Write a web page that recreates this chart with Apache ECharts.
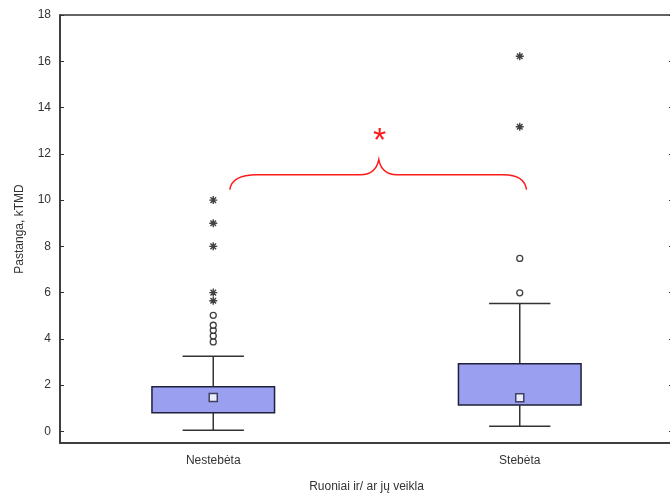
<!DOCTYPE html>
<html>
<head>
<meta charset="utf-8">
<script src="https://cdn.jsdelivr.net/npm/echarts@6/dist/echarts.min.js"></script>
<style>html,body{margin:0;padding:0;background:#fff;}#c{width:670px;height:494px;}</style>
</head>
<body>
<div id="c"></div>
<script>
// ---- data ----
var categories = ['Nestebėta', 'Stebėta'];
var yTicks = [0, 2, 4, 6, 8, 10, 12, 14, 16, 18];
var boxMin = [0.05, 0.22];
var boxQ1 = [0.81, 1.14];
var boxMedian = [1.47, 1.46];
var boxQ3 = [1.93, 2.93];
var boxMax = [3.25, 5.53];
var outliers0 = [3.87, 4.13, 4.37, 4.59, 5.02];
var outliers1 = [5.99, 7.48];
var extremes0 = [5.65, 6.0, 8.0, 9.0, 10.0];
var extremes1 = [13.17, 16.22];
// significance brace (x in category units, y in data units)
var braceX = [0.054, 0.54, 1.022];   // left end, peak, right end
var braceY = [10.45, 11.1, 11.75];   // ends, arms, peak
var sigMark = { x: 0.543, y: 12.96, text: '*' };

var font = 'Liberation Sans, Arial, sans-serif';
var boxData = categories.map(function (c, i) {
  return [i, boxMin[i], boxQ1[i], boxMedian[i], boxQ3[i], boxMax[i]];
});
function pts(idx, arr) { return arr.map(function (v) { return [idx, v]; }); }
var outlierData = pts(0, outliers0).concat(pts(1, outliers1));
var extremeData = pts(0, extremes0).concat(pts(1, extremes1));
var medianData = boxMedian.map(function (v, i) { return [i, v]; });

var chart = echarts.init(document.getElementById('c'), null, { renderer: 'canvas' });
var axisColor = '#333';
chart.setOption({
  animation: false,
  backgroundColor: '#fff',
  grid: { left: 60, top: 15, right: -3, bottom: 51, containLabel: false, outerBoundsMode: 'none',
    show: true, borderColor: axisColor, borderWidth: 1.5, backgroundColor: 'transparent' },
  xAxis: [{
    type: 'category', data: categories, boundaryGap: true,
    axisLine: { onZero: false, lineStyle: { color: axisColor, width: 1.5 } },
    axisTick: { inside: true, alignWithLabel: true, length: 4, lineStyle: { color: axisColor } },
    axisLabel: { color: '#333', fontSize: 12, fontFamily: font, margin: 12 },
    name: 'Ruoniai ir/ ar jų veikla', nameLocation: 'middle', nameGap: 38,
    nameTextStyle: { color: '#333', fontSize: 12, fontFamily: font },
    splitLine: { show: false }
  }, {
    type: 'value', min: -0.5, max: 1.5, show: false,
    axisLine: { show: false, onZero: false }
  }],
  yAxis: [{
    type: 'value', min: -0.5, max: 18,
    axisLine: { show: true, onZero: false, lineStyle: { color: axisColor, width: 1.5 } },
    axisTick: { show: true, inside: true, length: 4, customValues: yTicks, lineStyle: { color: axisColor } },
    axisLabel: { color: '#333', fontSize: 12, fontFamily: font, margin: 9, customValues: yTicks },
    splitLine: { show: false },
    name: 'Pastanga, kTMD', nameLocation: 'middle', nameGap: 34, nameRotate: 90,
    nameTextStyle: { color: '#333', fontSize: 12, fontFamily: font }
  }, {
    type: 'value', min: -0.5, max: 18, position: 'right',
    axisLine: { show: true, onZero: false, lineStyle: { color: axisColor, width: 1.5 } },
    axisTick: { show: true, inside: true, length: 4, customValues: yTicks, lineStyle: { color: axisColor } },
    axisLabel: { show: false },
    splitLine: { show: false }
  }],
  series: [{
    type: 'custom',
    xAxisIndex: 0, yAxisIndex: 0,
    data: boxData,
    z: 2,
    renderItem: function (params, api) {
      var i = api.value(0);
      var band = api.size([1, 0])[0];
      var bw = band * 0.4, cw = band * 0.2;
      var pMin = api.coord([i, api.value(1)]);
      var pQ1 = api.coord([i, api.value(2)]);
      var pQ3 = api.coord([i, api.value(4)]);
      var pMax = api.coord([i, api.value(5)]);
      var x = pQ1[0];
      var ls = { stroke: '#333', lineWidth: 1.5 };
      return { type: 'group', children: [
        { type: 'line', shape: { x1: x, y1: pQ3[1], x2: x, y2: pMax[1] }, style: ls },
        { type: 'line', shape: { x1: x, y1: pQ1[1], x2: x, y2: pMin[1] }, style: ls },
        { type: 'line', shape: { x1: x - cw / 2, y1: pMax[1], x2: x + cw / 2, y2: pMax[1] }, style: ls },
        { type: 'line', shape: { x1: x - cw / 2, y1: pMin[1], x2: x + cw / 2, y2: pMin[1] }, style: ls },
        { type: 'rect', shape: { x: x - bw / 2, y: pQ3[1], width: bw, height: pQ1[1] - pQ3[1] },
          style: { fill: '#9aa0ef', stroke: '#20203a', lineWidth: 1.5 } }
      ] };
    }
  }, {
    type: 'scatter', xAxisIndex: 0, yAxisIndex: 0, z: 5,
    data: medianData, symbol: 'rect', symbolSize: 8,
    itemStyle: { color: '#fff', borderColor: '#20203a', borderWidth: 1.5 }
  }, {
    type: 'scatter', xAxisIndex: 0, yAxisIndex: 0, z: 5,
    data: outlierData, symbol: 'circle', symbolSize: 6,
    itemStyle: { color: '#fff', borderColor: '#111', borderWidth: 1.3 }
  }, {
    type: 'scatter', xAxisIndex: 0, yAxisIndex: 0, z: 5,
    data: extremeData,
    symbol: 'path://M5,0 L5,10 M0,5 L10,5 M1.5,1.5 L8.5,8.5 M8.5,1.5 L1.5,8.5',
    symbolSize: 8,
    itemStyle: { color: 'rgba(0,0,0,0)', borderColor: '#111', borderWidth: 1.4 }
  }, {
    type: 'custom', xAxisIndex: 1, yAxisIndex: 0, z: 6,
    data: [[braceX[0], braceX[1], braceX[2], braceY[0], braceY[1], braceY[2]]],
    renderItem: function (params, api) {
      var L = api.coord([api.value(0), api.value(3)]);
      var P = api.coord([api.value(1), api.value(5)]);
      var R = api.coord([api.value(2), api.value(3)]);
      var armY = api.coord([api.value(1), api.value(4)])[1];
      var d = 'M' + L[0] + ',' + L[1] +
        ' Q' + (L[0] + 2) + ',' + armY + ' ' + (L[0] + 27) + ',' + armY +
        ' L' + (P[0] - 18) + ',' + armY +
        ' Q' + (P[0] - 3) + ',' + armY + ' ' + P[0] + ',' + P[1] +
        ' Q' + (P[0] + 3) + ',' + armY + ' ' + (P[0] + 18) + ',' + armY +
        ' L' + (R[0] - 23) + ',' + armY +
        ' Q' + (R[0] - 2) + ',' + armY + ' ' + R[0] + ',' + R[1];
      var T = api.coord([sigMark.x, sigMark.y]);
      return { type: 'group', children: [
        { type: 'path', shape: { pathData: d }, style: { fill: 'none', stroke: '#ff1a1a', lineWidth: 1.5 } },
        { type: 'text', x: T[0], y: T[1] + 10, style: { text: sigMark.text, fill: '#ff1a1a', font: '34px ' + font, align: 'center', verticalAlign: 'middle' } }
      ] };
    }
  }]
});
</script>
</body>
</html>
